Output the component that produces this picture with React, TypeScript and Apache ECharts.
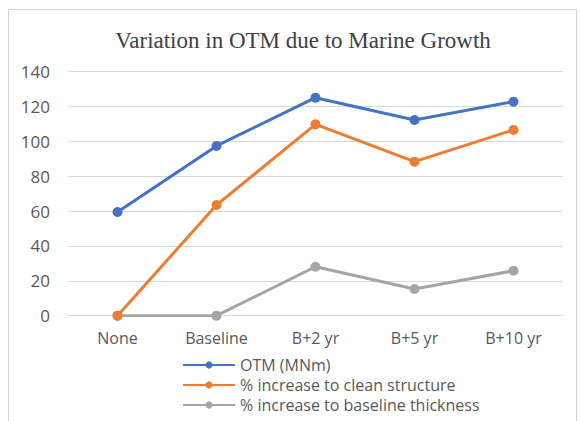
import React, { useEffect, useRef } from "react";
import * as echarts from "echarts";

const categories = ["None", "Baseline", "B+2 yr", "B+5 yr", "B+10 yr"];
const otm = [59.5, 97.4, 125.1, 112.3, 122.8];
const cleanIncrease = [0, 63.5, 109.8, 88.4, 106.6];
const baselineIncrease = [0, 0, 28.1, 15.3, 25.8];
const yTicks = { min: 0, max: 140, interval: 20 };
const titleText = "Variation in OTM due to Marine Growth";
const seriesNames = [
  "OTM (MNm)",
  "% increase to clean structure",
  "% increase to baseline thickness",
];

export default function App() {
  const ref = useRef<HTMLDivElement>(null);
  useEffect(() => {
    if (!ref.current) return;
    const chart = echarts.init(ref.current, null, { renderer: "svg" });
    const colors = ["#4472C4", "#ED7D31", "#A5A5A5"];
    const datasets = [otm, cleanIncrease, baselineIncrease];
    chart.setOption({
      animation: false,
      backgroundColor: "#ffffff",
      color: colors,
      title: {
        text: titleText,
        left: 298,
        top: 24,
        textAlign: "center",
        textStyle: {
          fontFamily: "Liberation Serif",
          fontSize: 23,
          fontWeight: "normal",
          color: "#404040",
        },
      },
      graphic: [
        {
          type: "rect",
          shape: { x: 8.5, y: 9.5, width: 568, height: 430 },
          style: { fill: "none", stroke: "#d4d4d4", lineWidth: 1 },
          silent: true,
          z: -1,
        },
      ],
      grid: { left: 68, right: 17, top: 71.7, bottom: 105.3, containLabel: false },
      xAxis: {
        type: "category",
        data: categories,
        boundaryGap: true,
        axisLine: { show: true, lineStyle: { color: "#d9d9d9", width: 1 } },
        axisTick: { show: false },
        axisLabel: {
          margin: 14,
          fontFamily: "Open Sans",
          fontSize: 16,
          color: "#595959",
        },
      },
      yAxis: {
        type: "value",
        min: yTicks.min,
        max: yTicks.max,
        interval: yTicks.interval,
        axisLine: { show: false },
        axisTick: { show: false },
        splitLine: { lineStyle: { color: "#d9d9d9", width: 1 } },
        axisLabel: {
          margin: 18,
          fontFamily: "Open Sans",
          fontSize: 17,
          color: "#595959",
        },
      },
      legend: {
        orient: "vertical",
        left: 182,
        top: 357,
        height: 64,
        padding: 0,
        itemWidth: 52,
        itemHeight: 9,
        itemGap: 4,
        data: seriesNames,
        textStyle: {
          fontFamily: "Open Sans",
          fontSize: 16,
          color: "#595959",
        },
      },
      series: seriesNames.map((name, i) => ({
        name,
        type: "line",
        data: datasets[i],
        symbol: "circle",
        symbolSize: 10,
        lineStyle: { width: 3, color: colors[i] },
        itemStyle: { color: colors[i] },
        z: 3 - i,
      })),
    });
    return () => chart.dispose();
  }, []);
  return (
    <div
      ref={ref}
      style={{ position: "fixed", left: 0, top: 0, width: 580, height: 421 }}
    />
  );
}
